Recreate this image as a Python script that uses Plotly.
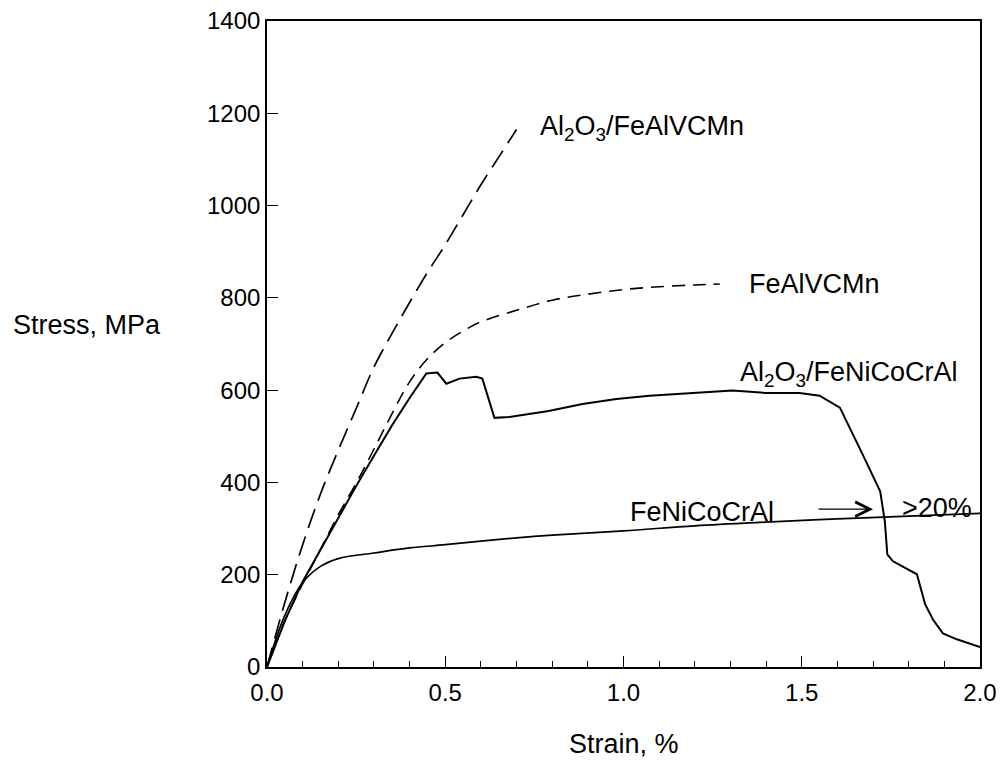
import plotly.graph_objects as go

# Al2O3/FeAlVCMn (long dash)
strain_a = [0, 0.05, 0.1, 0.15, 0.2, 0.25, 0.3, 0.35, 0.4, 0.45, 0.5, 0.55, 0.6, 0.65, 0.7]
stress_a = [0, 140, 265, 375, 470, 560, 650, 722, 790, 855, 915, 980, 1045, 1105, 1165]

# FeAlVCMn (short dash)
strain_b = [0, 0.05, 0.1, 0.15, 0.2, 0.25, 0.3, 0.35, 0.4, 0.45, 0.5, 0.55, 0.6, 0.7, 0.8, 0.9, 1.0, 1.1, 1.2, 1.27]
stress_b = [0, 100, 180, 255, 330, 398, 472, 548, 618, 668, 703, 728, 748, 773, 795, 808, 818, 824, 828, 830]

# Al2O3/FeNiCoCrAl (solid)
strain_c = [0, 0.05, 0.1, 0.15, 0.2, 0.25, 0.3, 0.35, 0.4, 0.447, 0.478, 0.503, 0.54, 0.587, 0.604,
            0.638, 0.68, 0.79, 0.885, 0.98, 1.073, 1.166, 1.306, 1.40, 1.494, 1.55, 1.607, 1.67,
            1.72, 1.733, 1.74, 1.756, 1.823, 1.846, 1.868, 1.896, 1.935, 2.0]
stress_c = [0, 100, 185, 255, 325, 392, 458, 523, 583, 636, 638, 614, 625, 629, 625,
            540, 542, 555, 570, 581, 588, 592, 599, 594, 594, 588, 562, 462,
            381, 316, 244, 229, 201, 136, 103, 73, 60, 43]

# FeNiCoCrAl (solid)
strain_d = [0, 0.05, 0.1, 0.15, 0.2, 0.3, 0.4, 0.5, 0.7, 0.8, 1.0, 1.2, 1.4, 1.6, 1.8, 2.0]
stress_d = [0, 112, 183, 218, 235, 247, 258, 265, 280, 286, 295, 306, 314, 321, 327, 333]

x_ticks = [0.0, 0.5, 1.0, 1.5, 2.0]
y_ticks = [0, 200, 400, 600, 800, 1000, 1200, 1400]

FONT = "Liberation Sans, Arial, sans-serif"

fig = go.Figure()
fig.add_trace(go.Scatter(x=strain_a, y=stress_a, mode="lines",
                         line=dict(color="black", width=1.7, dash="20px,9px", shape="spline")))
fig.add_trace(go.Scatter(x=strain_b, y=stress_b, mode="lines",
                         line=dict(color="black", width=1.6, dash="13px,8px", shape="spline")))
fig.add_trace(go.Scatter(x=strain_c, y=stress_c, mode="lines",
                         line=dict(color="black", width=2.0)))
fig.add_trace(go.Scatter(x=strain_d, y=stress_d, mode="lines",
                         line=dict(color="black", width=1.7, shape="spline")))

ann_font = dict(family=FONT, size=27, color="black")
fig.add_annotation(x=0.760, y=1168, text="Al<sub>2</sub>O<sub>3</sub>/FeAlVCMn", showarrow=False,
                   xanchor="left", yanchor="middle", font=ann_font)
fig.add_annotation(x=1.346, y=830, text="FeAlVCMn", showarrow=False,
                   xanchor="left", yanchor="middle", font=ann_font)
fig.add_annotation(x=1.321, y=636, text="Al<sub>2</sub>O<sub>3</sub>/FeNiCoCrAl", showarrow=False,
                   xanchor="left", yanchor="middle", font=ann_font)
fig.add_annotation(x=1.013, y=336, text="FeNiCoCrAl", showarrow=False,
                   xanchor="left", yanchor="middle", font=ann_font)
fig.add_annotation(x=1.776, y=345, text="&gt;20%", showarrow=False,
                   xanchor="left", yanchor="middle", font=ann_font)
fig.add_annotation(x=1.700, y=342, ax=1.543, ay=342, axref="x", ayref="y", xref="x", yref="y",
                   text="", showarrow=True, arrowhead=5, arrowsize=2.4, arrowwidth=1.2,
                   arrowcolor="black")

fig.add_annotation(xref="x domain", yref="y domain", x=-0.359, y=0.529, text="Stress, MPa",
                   showarrow=False, xanchor="left", yanchor="middle",
                   font=dict(family=FONT, size=27, color="black"))
fig.add_annotation(xref="x domain", yref="y domain", x=0.5, y=-0.119, text="Strain, %",
                   showarrow=False, xanchor="center", yanchor="middle",
                   font=dict(family=FONT, size=27, color="black"))

fig.update_layout(
    width=1000, height=755,
    margin=dict(l=259, r=28, t=13, b=96, autoexpand=False),
    paper_bgcolor="white", plot_bgcolor="white",
    showlegend=False,
    font=dict(family=FONT, size=24, color="black"),
)
fig.update_xaxes(
    range=[0, 2], tickvals=x_ticks, ticktext=[f"{v:.1f}" for v in x_ticks],
    ticks="inside", ticklen=11, tickwidth=1.3, tickcolor="black",
    minor=dict(dtick=0.1, ticks="inside", ticklen=6, tickwidth=1.3, tickcolor="black"),
    showline=True, linecolor="black", linewidth=1.6, mirror=True, showgrid=False, zeroline=False,
    tickfont=dict(family=FONT, size=24), ticklabeloverflow="allow", automargin=False,
    ticklabelstandoff=3,
)
fig.update_yaxes(
    range=[0, 1400], tickvals=y_ticks, ticks="inside", ticklen=11, tickwidth=1.3, tickcolor="black",
    showline=True, linecolor="black", linewidth=1.6, mirror=True, showgrid=False, zeroline=False,
    tickfont=dict(family=FONT, size=24), ticklabeloverflow="allow", automargin=False,
)

fig.write_html("out.html")
